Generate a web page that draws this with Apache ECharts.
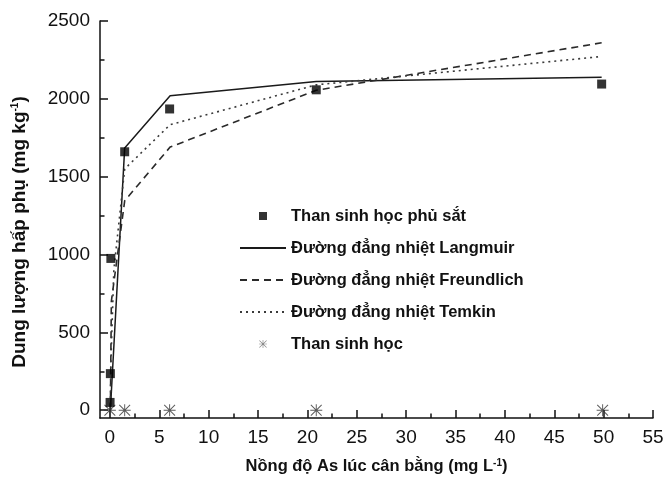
<!DOCTYPE html>
<html><head><meta charset="utf-8">
<script src="https://cdn.jsdelivr.net/npm/echarts@6/dist/echarts.min.js"></script>
<style>html,body{margin:0;padding:0;background:#fff}#c{width:666px;height:479px}</style>
</head><body><div id="c"></div>
<script>
// ---- data ----
const xTicks = [0, 5, 10, 15, 20, 25, 30, 35, 40, 45, 50, 55];
const xMinorTicks = [2.5, 7.5, 12.5, 17.5, 22.5, 27.5, 32.5, 37.5, 42.5, 47.5, 52.5];
const yTicks = [0, 500, 1000, 1500, 2000, 2500];
const yMinorTicks = [250, 750, 1250, 1750, 2250];

const seriesNames = ['Than sinh học phủ sắt', 'Đường đẳng nhiệt Langmuir', 'Đường đẳng nhiệt Freundlich', 'Đường đẳng nhiệt Temkin', 'Than sinh học'];

const coatedX = [0.02, 0.05, 0.1, 1.5, 6.05, 20.9, 49.8];
const coatedY = [50, 235, 975, 1660, 1935, 2058, 2095];
const langmuirX = [0.05, 1.5, 6.1, 20.9, 49.8];
const langmuirY = [0, 1685, 2020, 2112, 2138];
const freundlichX = [0.05, 0.15, 1.5, 6.1, 20.9, 49.8];
const freundlichY = [0, 700, 1345, 1690, 2055, 2360];
const temkinX = [0.05, 0.1, 0.4, 1.5, 6.1, 20.9, 49.8];
const temkinY = [0, 300, 900, 1550, 1834, 2090, 2272];
const plainX = [0, 1.5, 6.05, 20.9, 49.9];
const plainY = [0, 0, 0, 0, 0];

const xTitle = 'Nồng độ As lúc cân bằng (mg L{sup|-1})';
const yTitle = 'Dung lượng hấp phụ (mg kg{sup|-1})';

// ---- chart ----
const zip = (a, b) => a.map((v, i) => [v, b[i]]);
const FONT = '"Liberation Sans", Arial, sans-serif';
const AX = '#111';
const asterisk = 'path://M0 9.2H20V10.8H0Z M9.2 0H10.8V20H9.2Z M1.566 0.434L19.566 18.434L18.434 19.566L0.434 1.566Z M19.566 1.566L1.566 19.566L0.434 18.434L18.434 0.434Z';
const supStyle = { fontSize: 10, fontWeight: 'bold', fontFamily: FONT, color: AX, verticalAlign: 'top', lineHeight: 12 };
const plain = v => String(v);

const chart = echarts.init(document.getElementById('c'), null, { renderer: 'canvas' });
chart.setOption({
  animation: false,
  backgroundColor: '#fff',
  grid: { left: 100, right: 13, top: 21, bottom: 61, containLabel: false, outerBoundsMode: 'none' },
  xAxis: [{
    type: 'value', min: -1, max: 55, position: 'bottom',
    axisLine: { onZero: false, lineStyle: { color: AX, width: 1.5 } },
    axisTick: { inside: true, length: 8, customValues: xTicks, lineStyle: { color: AX, width: 1.5 } },
    axisLabel: { customValues: xTicks, formatter: plain, fontSize: 19, color: AX, margin: 10, fontFamily: FONT },
    splitLine: { show: false },
    name: xTitle, nameLocation: 'middle', nameGap: 40,
    nameTextStyle: { fontSize: 16.5, fontWeight: 'bold', color: AX, fontFamily: FONT, rich: { sup: supStyle } }
  }, {
    type: 'value', min: -1, max: 55, position: 'bottom',
    axisLine: { show: false, onZero: false },
    axisTick: { inside: true, length: 4.5, customValues: xMinorTicks, lineStyle: { color: AX, width: 1.5 } },
    axisLabel: { show: false }, splitLine: { show: false }
  }],
  yAxis: [{
    type: 'value', min: -50, max: 2500, position: 'left',
    axisLine: { show: true, onZero: false, lineStyle: { color: AX, width: 1.5 } },
    axisTick: { show: true, inside: true, length: 8, customValues: yTicks, lineStyle: { color: AX, width: 1.5 } },
    axisLabel: { customValues: yTicks, formatter: plain, fontSize: 19, color: AX, margin: 10, fontFamily: FONT },
    splitLine: { show: false },
    name: yTitle, nameLocation: 'middle', nameGap: 71,
    nameTextStyle: { fontSize: 19, fontWeight: 'bold', color: AX, fontFamily: FONT, padding: [0, 25, 0, 0], rich: { sup: supStyle } }
  }, {
    type: 'value', min: -50, max: 2500, position: 'left',
    axisLine: { show: false, onZero: false },
    axisTick: { show: true, inside: true, length: 4.5, customValues: yMinorTicks, lineStyle: { color: AX, width: 1.5 } },
    axisLabel: { show: false }, splitLine: { show: false }
  }],
  legend: {
    orient: 'vertical', left: 239, top: 207, padding: 0,
    itemWidth: 46, itemHeight: 8, itemGap: 14,
    textStyle: { fontSize: 16.5, fontWeight: 'bold', color: AX, fontFamily: FONT, lineHeight: 18 },
    data: [
      { name: seriesNames[0], icon: 'path://M0 0H10V10H0Z' },
      { name: seriesNames[1] },
      { name: seriesNames[2] },
      { name: seriesNames[3] },
      { name: seriesNames[4], icon: asterisk, itemStyle: { color: '#666' } }
    ]
  },
  series: [
    { type: 'line', name: seriesNames[1], data: zip(langmuirX, langmuirY), symbol: 'none',
      lineStyle: { color: '#1a1a1a', width: 1.5, type: 'solid' }, itemStyle: { color: 'rgba(0,0,0,0)' }, z: 3 },
    { type: 'line', name: seriesNames[2], data: zip(freundlichX, freundlichY), symbol: 'none',
      lineStyle: { color: '#2a2a2a', width: 1.6, type: [7, 5] }, itemStyle: { color: 'rgba(0,0,0,0)' }, z: 3 },
    { type: 'line', name: seriesNames[3], data: zip(temkinX, temkinY), symbol: 'none',
      lineStyle: { color: '#3a3a3a', width: 1.6, type: [2, 4] }, itemStyle: { color: 'rgba(0,0,0,0)' }, z: 3 },
    { type: 'scatter', name: seriesNames[0], data: zip(coatedX, coatedY), symbol: 'rect', symbolSize: 9,
      itemStyle: { color: '#000' }, z: 5 },
    { type: 'scatter', name: seriesNames[4], data: zip(plainX, plainY), symbol: asterisk, symbolSize: 12,
      itemStyle: { color: '#333' }, z: 4 }
  ]
});
</script>
</body></html>
